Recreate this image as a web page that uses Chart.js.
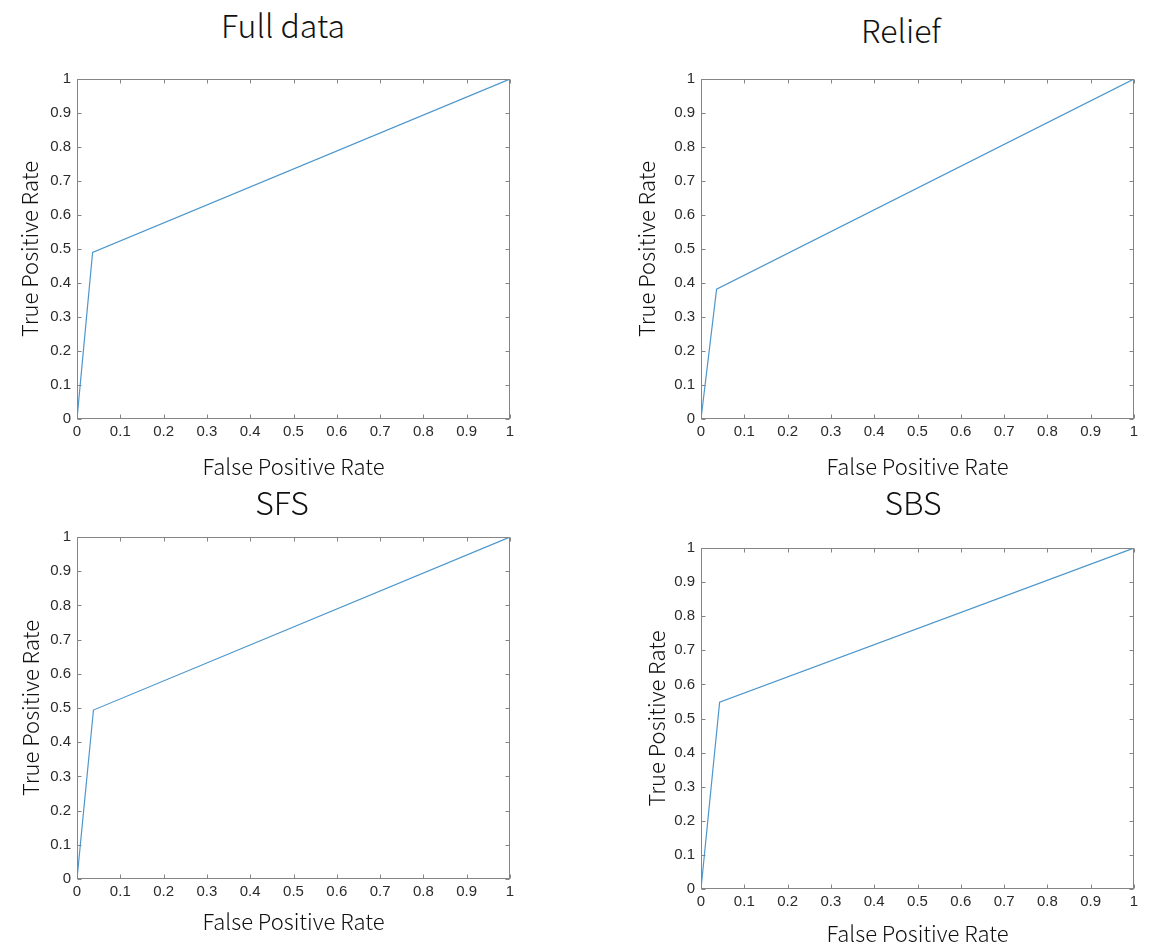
<!DOCTYPE html>
<html>
<head>
<meta charset="utf-8">
<script src="https://cdn.jsdelivr.net/npm/chart.js@4.4.0/dist/chart.umd.min.js"></script>
<style>
  html, body { margin: 0; padding: 0; background: #fff; overflow: hidden; }
  body { width: 1176px; height: 943px; position: relative; }
  canvas { position: absolute; }
  .ptitle {
    position: absolute; width: 300px; text-align: center;
    font-family: "Noto Sans CJK SC", "Noto Sans", sans-serif;
    font-weight: 300; font-size: 32px; line-height: 32px; color: #111;
  }
</style>
</head>
<body>
<script>
// ROC curves, one per feature selection method
const tickLabels = ['0', '0.1', '0.2', '0.3', '0.4', '0.5', '0.6', '0.7', '0.8', '0.9', '1'];
const panelTitles = ['Full data', 'Relief', 'SFS', 'SBS'];

const fullDataFpr = [0, 0.036, 1];
const fullDataTpr = [0, 0.49, 1];
const reliefFpr = [0, 0.036, 1];
const reliefTpr = [0, 0.382, 1];
const sfsFpr = [0, 0.038, 1];
const sfsTpr = [0, 0.494, 1];
const sbsFpr = [0, 0.043, 1];
const sbsTpr = [0, 0.548, 1];

const lineColor = '#4d97cc';
const axisColor = '#858585';
const tickColor = '#2b2b2b';

const panels = [
    { fpr: fullDataFpr, tpr: fullDataTpr, canvas: [0, 0, 590, 480],   plot: [77, 510, 79, 419],  title: [283, 8],   yTitleX: 30,  xTitleY: 467 },
    { fpr: reliefFpr,   tpr: reliefTpr,   canvas: [590, 0, 586, 480], plot: [701, 1134, 79, 419], title: [901, 13], yTitleX: 647, xTitleY: 467 },
    { fpr: sfsFpr,      tpr: sfsTpr,      canvas: [0, 480, 590, 480], plot: [77, 510, 537, 879], title: [282, 485], yTitleX: 31, xTitleY: 922 },
    { fpr: sbsFpr,      tpr: sbsTpr,      canvas: [590, 480, 586, 480], plot: [701, 1134, 548, 889], title: [913, 485], yTitleX: 657, xTitleY: 934 }
];

// MATLAB style box with inward ticks on all four sides
const boxTicks = {
    id: 'boxTicks',
    afterDraw(chart) {
        const { ctx, chartArea: a, scales: { x, y } } = chart;
        const l = Math.round(a.left) + 0.5, r = Math.round(a.right) - 0.5;
        const t = Math.round(a.top) + 0.5, b = Math.round(a.bottom) - 0.5;
        ctx.save();
        ctx.strokeStyle = axisColor;
        ctx.lineWidth = 1;
        ctx.strokeRect(l, t, r - l, b - t);
        ctx.beginPath();
        x.ticks.forEach(tk => {
            const px = Math.round(x.getPixelForValue(tk.value)) + 0.5;
            ctx.moveTo(px, b); ctx.lineTo(px, b - 4);
            ctx.moveTo(px, t); ctx.lineTo(px, t + 4);
        });
        y.ticks.forEach(tk => {
            const py = Math.round(y.getPixelForValue(tk.value)) + 0.5;
            ctx.moveTo(l, py); ctx.lineTo(l + 4, py);
            ctx.moveTo(r, py); ctx.lineTo(r - 4, py);
        });
        ctx.stroke();
        ctx.restore();
    }
};

const tickFont = { family: 'Liberation Sans', size: 15 };
const titleFont = { family: 'Noto Sans CJK SC', size: 22, weight: 300, lineHeight: 1 };

panels.forEach((p, i) => {
    const [cl, ct, cw, ch] = p.canvas;
    const [pl, pr, pt, pb] = p.plot;

    const head = document.createElement('div');
    head.className = 'ptitle';
    head.textContent = panelTitles[i];
    head.style.left = (p.title[0] - 150) + 'px';
    head.style.top = p.title[1] + 'px';
    document.body.appendChild(head);

    const canvas = document.createElement('canvas');
    canvas.width = cw;
    canvas.height = ch;
    canvas.style.left = cl + 'px';
    canvas.style.top = ct + 'px';
    document.body.appendChild(canvas);

    const yWidth = pl - cl;
    const xHeight = ct + ch - pb;

    new Chart(canvas.getContext('2d'), {
        type: 'scatter',
        data: {
            datasets: [{
                data: p.fpr.map((v, k) => ({ x: v, y: p.tpr[k] })),
                showLine: true,
                borderColor: lineColor,
                borderWidth: 1.2,
                pointRadius: 0,
                fill: false
            }]
        },
        options: {
            responsive: false,
            animation: false,
            layout: { padding: { left: 0, top: pt - ct, right: cl + cw - pr, bottom: 0 } },
            plugins: { legend: { display: false }, tooltip: { enabled: false } },
            scales: {
                x: {
                    type: 'linear', min: 0, max: 1,
                    grid: { display: false, drawTicks: false },
                    border: { display: false },
                    ticks: {
                        stepSize: 0.1, autoSkip: false, maxRotation: 0,
                        padding: 4, color: tickColor, font: tickFont,
                        callback: (v, k) => tickLabels[k]
                    },
                    title: {
                        display: true, text: 'False Positive Rate', color: '#111', font: titleFont,
                        padding: { top: 0, bottom: ct + ch - p.xTitleY - 11 }
                    },
                    afterFit: s => { s.height = xHeight; }
                },
                y: {
                    type: 'linear', min: 0, max: 1,
                    grid: { display: false, drawTicks: false },
                    border: { display: false },
                    ticks: {
                        stepSize: 0.1, autoSkip: false,
                        padding: 6, color: tickColor, font: tickFont,
                        callback: (v, k) => tickLabels[k]
                    },
                    title: {
                        display: true, text: 'True Positive Rate', color: '#111', font: titleFont,
                        padding: { top: p.yTitleX - cl - 11, bottom: 0 }
                    },
                    afterFit: s => { s.width = yWidth; }
                }
            }
        },
        plugins: [boxTicks]
    });
});
</script>
</body>
</html>
